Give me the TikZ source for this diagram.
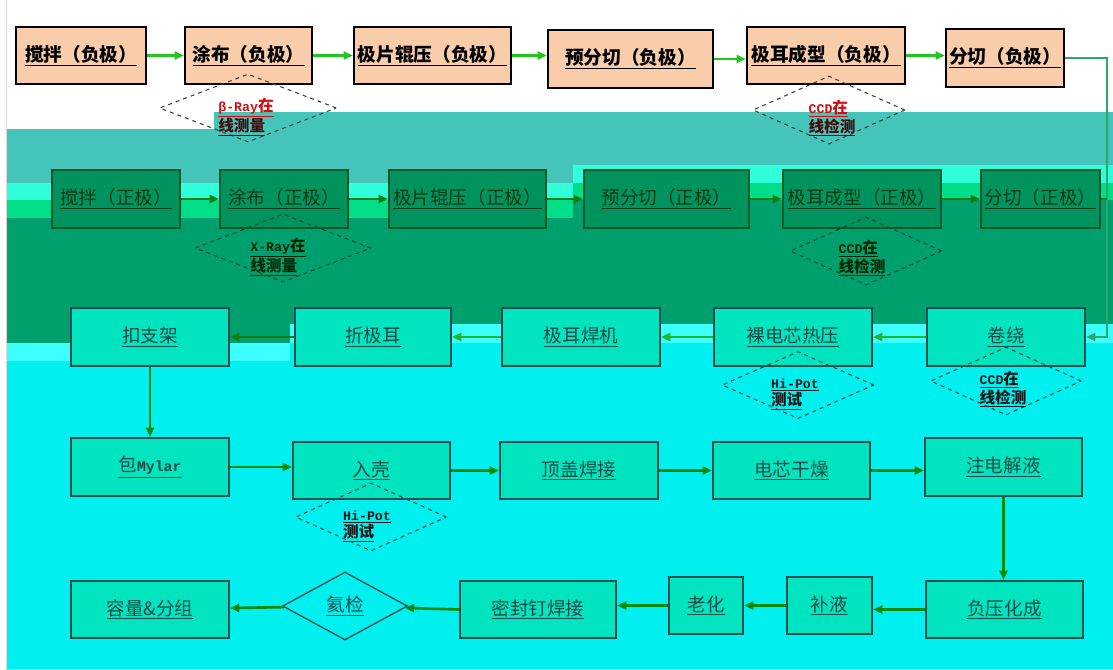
\documentclass[tikz,border=0pt]{standalone}
\usepackage{fontspec}
\setmainfont{Noto Sans CJK SC}
\newfontfamily\monof[Scale=0.8]{Liberation Mono}
\newfontfamily\monod[Scale=0.85]{Liberation Mono}
\usetikzlibrary{shapes.geometric,arrows.meta}
\definecolor{peach}{HTML}{F9CDA9}
\definecolor{tealbg}{HTML}{45C4B9}
\definecolor{aquaA}{HTML}{30FFDC}
\definecolor{brgreen}{HTML}{00DE8A}
\definecolor{medgreen}{HTML}{00A06E}
\definecolor{aquaB}{HTML}{3DFFFF}
\definecolor{cyanbg}{HTML}{00EFEF}
\definecolor{gtwofill}{HTML}{00935D}
\definecolor{gtwoline}{HTML}{0B5A28}
\definecolor{gtwotext}{HTML}{0A3A16}
\definecolor{aqfill}{HTML}{00E5BF}
\definecolor{sline}{HTML}{1D4F4C}
\definecolor{stext}{HTML}{174A46}
\definecolor{aone}{HTML}{22C422}
\definecolor{atwo}{HTML}{0F7F12}
\definecolor{athree}{HTML}{21B52A}
\definecolor{afour}{HTML}{0C8A0C}
\definecolor{trunkc}{HTML}{2AA86A}
\definecolor{redone}{HTML}{D01010}
\definecolor{maroonone}{HTML}{4A0808}
\definecolor{dlone}{HTML}{404040}
\definecolor{dltwo}{HTML}{0E4A2A}
\definecolor{dlthree}{HTML}{264A4A}
\newcommand\bandfill[4]{\fill[#1] (6,#4) -- (#2,#4) -- (#2,#3) -- (1113,#3) -- (1113,669) -- (6,669) -- cycle;}
\begin{document}
\begin{tikzpicture}[x=0.75pt,y=-0.75pt,
  sz/.style 2 args={minimum width=#1*0.75pt,minimum height=#2*0.75pt},
  rone/.style={draw=black,fill=peach,line width=1.7pt,inner sep=0pt,font=\fontsize{14}{16}\selectfont\bfseries,text=black},
  rtwo/.style={draw=gtwoline,fill=gtwofill,line width=1.5pt,inner sep=0pt,font=\fontsize{13.9}{16}\selectfont,text=gtwotext},
  rlow/.style={draw=sline,fill=aqfill,line width=1.5pt,inner sep=0pt,font=\fontsize{13.9}{16}\selectfont,text=stext},
  dia/.style={diamond,draw=#1,dashed,line width=0.8pt,inner sep=0pt},
  dtext/.style={align=left,inner sep=0pt,font=\fontsize{11.7}{13}\selectfont\bfseries},
  ar/.style={draw=#1,line width=2pt,-{Triangle[length=7pt,width=6pt]}},
  ln/.style={draw=#1,line width=2pt}]
\useasboundingbox (0,0) rectangle (1113,669);
% background bands
\fill[white] (0,0) rectangle (1113,669);
\bandfill{tealbg}{214}{112}{129}
\bandfill{aquaA}{573}{165}{183}
\bandfill{brgreen}{573}{183}{200}
\bandfill{medgreen}{573}{200}{218}
\bandfill{aquaB}{290}{324}{343}
\bandfill{cyanbg}{290}{343}{361}
\draw[black!15,line width=0.75pt] (6,0) -- (6,669);
% row 1
\node[rone,sz={130}{57}] (n1) at (81,55.5) {\underline{搅拌（负极）}};
\node[rone,sz={127}{57}] (n2) at (248.5,55.5) {\underline{涂布（负极）}};
\node[rone,sz={157}{57}] (n3) at (432.5,55.5) {\underline{极片辊压（负极）}};
\node[rone,sz={165}{58}] (n4) at (630.5,59) {\underline{预分切（负极）}};
\node[rone,sz={158}{57}] (n5) at (826,55.5) {\underline{极耳成型（负极）}};
\node[rone,sz={118}{58}] (n6) at (1005,58) {\underline{分切（负极）}};
% row 2
\node[rtwo,sz={128}{58}] (m1) at (116,199) {\underline{搅拌（正极）}};
\node[rtwo,sz={128}{58}] (m2) at (284,199) {\underline{涂布（正极）}};
\node[rtwo,sz={157}{58}] (m3) at (467.5,199) {\underline{极片辊压（正极）}};
\node[rtwo,sz={165}{58}] (m4) at (666.5,199) {\underline{预分切（正极）}};
\node[rtwo,sz={158}{58}] (m5) at (862,199) {\underline{极耳成型（正极）}};
\node[rtwo,sz={119}{58}] (m6) at (1040.5,199) {\underline{分切（正极）}};
% row 3
\node[rlow,sz={158}{58}] (k1) at (150,337) {\underline{扣支架}};
\node[rlow,sz={156}{58}] (k2) at (373,337) {\underline{折极耳}};
\node[rlow,sz={158}{58}] (k3) at (581,337) {\underline{极耳焊机}};
\node[rlow,sz={158}{58}] (k4) at (793,337) {\underline{裸电芯热压}};
\node[rlow,sz={158}{58}] (k5) at (1006,337) {\underline{卷绕}};
% row 4
\node[rlow,sz={158}{58}] (p1) at (150,467) {\underline{包{\monof\bfseries Mylar}}};
\node[rlow,sz={157}{57}] (p2) at (371.5,470.5) {\underline{入壳}};
\node[rlow,sz={158}{57}] (p3) at (579,470.5) {\underline{顶盖焊接}};
\node[rlow,sz={157}{57}] (p4) at (791.5,470.5) {\underline{电芯干燥}};
\node[rlow,sz={157}{58}] (p5) at (1003.5,467) {\underline{注电解液}};
% row 5
\node[rlow,sz={158}{57}] (q1) at (150,609.5) {\underline{容量\&分组}};
\node[diamond,draw=sline,line width=1pt,inner sep=0pt,sz={125}{68},font=\fontsize{13.9}{16}\selectfont,text=stext] (q2) at (345,606) {\underline{氦检}};
\node[rlow,sz={156}{57}] (q3) at (538,609.5) {\underline{密封钉焊接}};
\node[rlow,sz={74}{57}] (q4) at (706,605.5) {\underline{老化}};
\node[rlow,sz={85}{57}] (q5) at (829.5,605.5) {\underline{补液}};
\node[rlow,sz={157}{57}] (q6) at (1004.5,609.5) {\underline{负压化成}};
% check diamonds
\node[dia=dlone,sz={177}{68}] (d1) at (248,108) {};
\node[dtext] (d1t) at (246,117) {\textcolor{redone}{\underline{{\monod\bfseries β-Ray}在}}\\\textcolor{maroonone}{\underline{线测量}}};
\node[dia=dlone,sz={152}{68}] (d2) at (829,110) {};
\node[dtext] (d2t) at (832,118) {\textcolor{redone}{\underline{{\monod\bfseries CCD}在}}\\\textcolor{maroonone}{\underline{线检测}}};
\node[dia=dltwo,sz={176}{68}] (d3) at (283,248) {};
\node[dtext,text=black!85!green] (d3t) at (278,257) {\underline{{\monod\bfseries X-Ray}在}\\\underline{线测量}};
\node[dia=dltwo,sz={152}{68}] (d4) at (866,251) {};
\node[dtext,text=black!85!green] (d4t) at (862,258) {\underline{{\monod\bfseries CCD}在}\\\underline{线检测}};
\node[dia=dlthree,sz={152}{67}] (d5) at (798,385) {};
\node[dtext,text=black!90] (d5t) at (795,394) {\underline{{\monod\bfseries Hi-Pot}}\\\underline{测试}};
\node[dia=dlthree,sz={151}{68}] (d6) at (1006,381) {};
\node[dtext,text=black!90] (d6t) at (1003,389) {\underline{{\monod\bfseries CCD}在}\\\underline{线检测}};
\node[dia=dlthree,sz={151}{68}] (d7) at (371,517) {};
\node[dtext,text=black!90] (d7t) at (367,526) {\underline{{\monod\bfseries Hi-Pot}}\\\underline{测试}};
% connectors row 1
\draw[ar=aone] (n1) -- (n2);
\draw[ar=aone] (n2) -- (n3);
\draw[ar=aone] (n3.east) -- (n3.east -| n4.west);
\draw[ar=aone] (n4.east) -- (n4.east -| n5.west);
\draw[ar=aone] (n5.east) -- (n5.east -| n6.west);
% row 2
\draw[ar=atwo] (m1) -- (m2);
\draw[ar=atwo] (m2) -- (m3);
\draw[ar=atwo] (m3) -- (m4);
\draw[ar=atwo] (m4) -- (m5);
\draw[ar=atwo] (m5) -- (m6);
% trunk to winding
\coordinate (tx) at (1107,0);
\draw[ar=trunkc] (n6.east) -- (n6.east -| tx) -- (tx |- k5) -- (k5.east);
\draw[ln=atwo] (m6.east) -- (m6.east -| tx);
% row 3
\draw[ar=athree] (k5) -- (k4);
\draw[ar=athree] (k4) -- (k3);
\draw[ar=athree] (k3) -- (k2);
\draw[ar=atwo] (k2) -- (k1);
\draw[ar=afour] (k1) -- (p1);
% row 4
\draw[ar=afour] (p1.east) -- (p1.east -| p2.west);
\draw[ar=afour] (p2) -- (p3);
\draw[ar=afour] (p3) -- (p4);
\draw[ar=afour] (p4.east) -- (p4.east -| p5.west);
\draw[ar=afour] (p5.south) -- (p5.south |- q6.north);
% row 5
\draw[ar=afour] (q6.west) -- (q6.west -| q5.east);
\draw[ar=afour] (q5) -- (q4);
\draw[ar=afour] (q4.west) -- (q4.west -| q3.east);
\draw[ar=afour] (q3.west) -- (q2);
\draw[ar=afour] (q2) -- (q1);
\end{tikzpicture}
\end{document}
